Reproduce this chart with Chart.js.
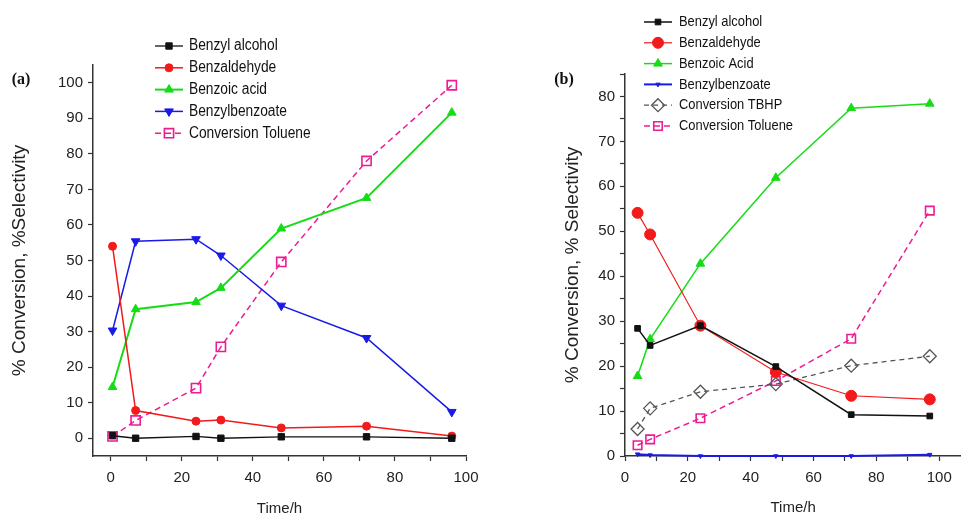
<!DOCTYPE html>
<html>
<head>
<meta charset="utf-8">
<script src="https://cdn.jsdelivr.net/npm/chart.js@4.4.0/dist/chart.umd.min.js"></script>
<style>
  html, body { margin: 0; background: #fff; overflow: hidden; }
  #wrap { position: relative; width: 961px; height: 516px; overflow: hidden; }
  canvas { position: absolute; top: 0; }
</style>
</head>
<body>
<div id="wrap">
  <canvas id="chart_a" width="480" height="516" style="left:0"></canvas>
  <!-- a little wider than the window: the x axis of (b) runs off the right edge like the original -->
  <canvas id="chart_b" width="489" height="516" style="left:480px"></canvas>
</div>
<script>
/*==================== data (a) ====================*/
const time_a     = [0.5, 7, 24, 31, 48, 72, 96];
const alcohol_a  = [0.7, 0, 0.5, 0, 0.4, 0.4, 0];
const aldehyde_a = [54.0, 7.8, 4.8, 5.1, 2.9, 3.4, 0.6];
const acid_a     = [14.4, 36.3, 38.3, 42.3, 59.0, 67.6, 91.6];
const benzoate_a = [30.3, 55.4, 56.0, 51.4, 37.3, 28.2, 7.4];
const toluene_a  = [0.5, 5.0, 14.1, 25.7, 49.6, 78.0, 99.3];
const labels_a   = ["Benzyl alcohol", "Benzaldehyde", "Benzoic acid", "Benzylbenzoate", "Conversion Toluene"];

/*==================== data (b) ====================*/
const time_b     = [4, 8, 24, 48, 72, 97];
const alcohol_b  = [28.4, 24.6, 29.0, 19.9, 9.2, 8.9];
const aldehyde_b = [54.1, 49.3, 29.0, 18.7, 13.4, 12.6];
const acid_b     = [17.8, 26.0, 42.8, 61.9, 77.4, 78.4];
const benzoate_b = [0.4, 0.2, 0.0, 0.0, 0.0, 0.3];
const tbhp_b     = [6.0, 10.6, 14.3, 16.0, 20.1, 22.2];
const toluene_b  = [2.4, 3.7, 8.4, 16.7, 26.1, 54.6];
const labels_b   = ["Benzyl alcohol", "Benzaldehyde", "Benzoic Acid", "Benzylbenzoate", "Conversion TBHP", "Conversion Toluene"];

// tick values
const xTicks   = [0, 10, 20, 30, 40, 50, 60, 70, 80, 90, 100];
const yTicks_a = [0, 10, 20, 30, 40, 50, 60, 70, 80, 90, 100];
const yTicks_b = [0, 5, 10, 15, 20, 25, 30, 35, 40, 45, 50, 55, 60, 65, 70, 75, 80, 85];

const SANS = "'Liberation Sans', Arial, sans-serif";

function pts(xs, ys) {
    return xs.map((x, i) => ({x: x, y: ys[i]}));
}

function series(label, xs, ys, color, style, radius, more) {
    return Object.assign({
        label: label,
        data: pts(xs, ys),
        borderColor: color,
        borderWidth: 1.5,
        pointStyle: style,
        pointRadius: radius,
        pointBackgroundColor: color,
        pointBorderColor: color,
        pointBorderWidth: 1,
        pointRotation: 0,
        tension: 0,
        fill: false,
        clip: false
    }, more || {});
}

// legend drawn inside the plot, line sample + marker like the original
const sideLegend = {
    id: 'sideLegend',
    afterDraw(chart, args, opts) {
        const ctx = chart.ctx;
        ctx.save();
        chart.data.datasets.forEach((ds, i) => {
            const y = opts.top + i * opts.step;
            ctx.strokeStyle = ds.borderColor;
            ctx.lineWidth = ds.borderWidth;
            ctx.setLineDash(ds.borderDash || []);
            ctx.beginPath();
            ctx.moveTo(opts.cx - 14, y);
            ctx.lineTo(opts.cx + 14, y);
            ctx.stroke();
            ctx.setLineDash([]);
            ctx.fillStyle = ds.pointBackgroundColor;
            ctx.strokeStyle = ds.pointBorderColor;
            ctx.lineWidth = ds.pointBorderWidth;
            Chart.helpers.drawPoint(ctx, {
                pointStyle: ds.pointStyle,
                rotation: ds.pointRotation,
                radius: ds.pointRadius,
                borderWidth: ds.pointBorderWidth
            }, opts.cx, y);
            // the original text is a narrow face, squeeze it a bit
            ctx.save();
            ctx.translate(opts.textX, y);
            ctx.scale(0.86, 1);
            ctx.fillStyle = '#111';
            ctx.font = opts.fontSize + 'px ' + SANS;
            ctx.textAlign = 'left';
            ctx.textBaseline = 'middle';
            ctx.fillText(ds.label, 0, 0);
            ctx.restore();
        });
        ctx.fillStyle = '#111';
        ctx.font = 'bold 16px "Liberation Serif", "Times New Roman", serif';
        ctx.textAlign = 'center';
        ctx.textBaseline = 'middle';
        ctx.fillText(opts.tag, opts.tagX, opts.tagY);
        ctx.restore();
    }
};

function axes(cfg) {
    const grid = {drawOnChartArea: false, drawTicks: true, tickLength: 5, tickColor: '#333', tickWidth: 1.2};
    const border = {display: true, color: '#333', width: 1.5};
    return {
        x: {
            type: 'linear',
            min: cfg.xMin, max: cfg.xMax,
            grid: grid, border: border,
            afterBuildTicks: s => { s.ticks = xTicks.map(v => ({value: v})); },
            afterFit: s => { s.height = 60; s.paddingLeft = 0; s.paddingRight = 0; },
            ticks: {
                autoSkip: false, maxRotation: 0, padding: 8, color: '#222',
                font: {family: SANS, size: 15},
                callback: v => (v % 20 === 0 ? v : '')
            },
            title: {
                display: true, text: 'Time/h', color: '#222',
                font: {family: SANS, size: 15, lineHeight: 1},
                padding: {top: 0, bottom: cfg.xTitlePad}
            }
        },
        y: {
            type: 'linear',
            min: cfg.yMin, max: cfg.yMax,
            grid: grid, border: border,
            afterBuildTicks: s => { s.ticks = cfg.yTicks.map(v => ({value: v})); },
            afterFit: s => { s.width = cfg.yWidth; s.paddingTop = 0; s.paddingBottom = 0; },
            ticks: {
                autoSkip: false, padding: 5, color: '#222',
                font: {family: SANS, size: 15},
                callback: v => (v % 10 === 0 ? v : '')
            },
            title: {
                display: true, text: cfg.yTitle, color: '#222',
                font: {family: SANS, size: 19},
                padding: {top: 8, bottom: 0}
            }
        }
    };
}

/*==================== chart (a) ====================*/
const chart_a = new Chart(document.getElementById("chart_a"), {
    type: 'line',
    data: {
        datasets: [
            series(labels_a[0], time_a, alcohol_a, '#111111', 'rect', 4.5, {borderWidth: 1.3}),
            series(labels_a[1], time_a, aldehyde_a, '#f21a1a', 'circle', 4),
            series(labels_a[2], time_a, acid_a, '#16dc16', 'triangle', 5, {borderWidth: 2}),
            series(labels_a[3], time_a, benzoate_a, '#1a1ae6', 'triangle', 5, {pointRotation: 180}),
            series(labels_a[4], time_a, toluene_a, '#ec1c94', 'rect', 6.5, {
                borderDash: [6, 4], pointBackgroundColor: 'rgba(0,0,0,0)', pointBorderWidth: 1.6
            })
        ]
    },
    options: {
        responsive: false,
        animation: false,
        layout: {padding: {left: 0, top: 65, right: 14, bottom: 0}},
        plugins: {
            legend: {display: false},
            tooltip: {enabled: false},
            sideLegend: {cx: 169, textX: 189, top: 46, step: 21.8, fontSize: 16, tag: '(a)', tagX: 21, tagY: 80}
        },
        scales: axes({xMin: -5, xMax: 100, yMin: -5, yMax: 105, yTicks: yTicks_a,
                      yWidth: 93, yTitle: '% Conversion, %Selectivity', xTitlePad: 0})
    },
    plugins: [sideLegend]
});

/*==================== chart (b) ====================*/
const chart_b = new Chart(document.getElementById("chart_b"), {
    type: 'line',
    data: {
        datasets: [
            series(labels_b[0], time_b, alcohol_b, '#111111', 'rect', 4),
            series(labels_b[1], time_b, aldehyde_b, '#f21a1a', 'circle', 5.5, {borderWidth: 1.2}),
            series(labels_b[2], time_b, acid_b, '#16dc16', 'triangle', 5),
            series(labels_b[3], time_b, benzoate_b, '#1a1ae6', 'triangle', 2.5, {pointRotation: 180, borderWidth: 2}),
            series(labels_b[4], time_b, tbhp_b, '#555555', 'rectRot', 6.5, {
                borderDash: [5, 4], borderWidth: 1.3, pointBackgroundColor: 'rgba(0,0,0,0)', pointBorderWidth: 1.3
            }),
            series(labels_b[5], time_b, toluene_b, '#ec1c94', 'rect', 6, {
                borderDash: [6, 4], pointBackgroundColor: 'rgba(0,0,0,0)', pointBorderWidth: 1.6
            })
        ]
    },
    options: {
        responsive: false,
        animation: false,
        layout: {padding: {left: 73, top: 74, right: 0, bottom: 0}},
        plugins: {
            legend: {display: false},
            tooltip: {enabled: false},
            sideLegend: {cx: 178, textX: 199, top: 22, step: 20.8, fontSize: 15, tag: '(b)', tagX: 84, tagY: 80}
        },
        scales: axes({xMin: 0, xMax: 107, yMin: 0, yMax: 85, yTicks: yTicks_b,
                      yWidth: 72, yTitle: '% Conversion, % Selectivity', xTitlePad: 1})
    },
    plugins: [sideLegend]
});
</script>
</body>
</html>
